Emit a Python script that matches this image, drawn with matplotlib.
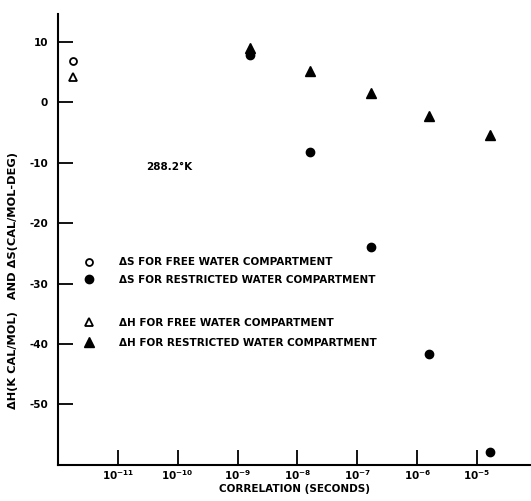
import matplotlib.pyplot as plt
from matplotlib.lines import Line2D

plt.rcParams["font.family"] = "DejaVu Sans"
plt.rcParams["font.weight"] = "bold"
plt.rcParams["mathtext.default"] = "bf"

# =========================
# Data
# =========================
tau_free = [1.8e-12]
ds_free = [6.9]
dh_free = [4.1]

tau_restr = [1.6e-9, 1.6e-8, 1.7e-7, 1.6e-6, 1.65e-5]
ds_restr = [7.9, -8.2, -24.0, -41.7, -57.9]
dh_restr = [9.0, 5.2, 1.6, -2.3, -5.4]

xtick_vals = [1e-11, 1e-10, 1e-9, 1e-8, 1e-7, 1e-6, 1e-5]
xtick_labels = ["$10^{-11}$", "$10^{-10}$", "$10^{-9}$", "$10^{-8}$",
                "$10^{-7}$", "$10^{-6}$", "$10^{-5}$"]
ytick_vals = [10, 0, -10, -20, -30, -40, -50]

# =========================
# Figure
# =========================
fig = plt.figure(figsize=(5.31, 5.01), dpi=100)
ax = fig.add_axes([0.109, 0.072, 0.891, 0.900])

ax.plot(tau_free, ds_free, "o", mfc="white", mec="black", mew=1.3, ms=5)
ax.plot(tau_free, dh_free, "^", mfc="white", mec="black", mew=1.3, ms=6)
ax.plot(tau_restr, ds_restr, "o", color="black", ms=6)
ax.plot(tau_restr, dh_restr, "^", color="black", ms=7)

ax.set_xscale("log")
ax.set_xlim(1e-12, 10 ** -4.1)
ax.set_ylim(-60, 14.6)
ax.set_xticks(xtick_vals)
ax.set_xticklabels(xtick_labels)
ax.minorticks_off()
ax.set_yticks(ytick_vals)
ax.set_yticklabels([str(v) for v in ytick_vals])

ax.spines["top"].set_visible(False)
ax.spines["right"].set_visible(False)
ax.spines["left"].set_linewidth(1.5)
ax.spines["bottom"].set_linewidth(1.5)
ax.tick_params(axis="both", direction="in", length=11, width=1.3,
               labelsize=7.5)
ax.tick_params(axis="x", pad=2)
ax.tick_params(axis="y", pad=7)

ax.set_xlabel("CORRELATION (SECONDS)", fontsize=7.5, fontweight="bold",
              labelpad=2)
ax.set_ylabel("ΔH(K CAL/MOL)   AND ΔS(CAL/MOL-DEG)", fontsize=8.2,
              fontweight="bold")
ax.yaxis.set_label_coords(-0.085, 0.41)

ax.text(0.235, 0.66, "288.2°K", transform=ax.transAxes, fontsize=7.5,
        fontweight="bold", ha="center", va="center")

# Legend (two groups)
h1 = [Line2D([], [], ls="none", marker="o", mfc="white", mec="black", mew=1.3, ms=5),
      Line2D([], [], ls="none", marker="o", color="black", ms=6)]
l1 = ["ΔS FOR FREE WATER COMPARTMENT", "ΔS FOR RESTRICTED WATER COMPARTMENT"]
h2 = [Line2D([], [], ls="none", marker="^", mfc="white", mec="black", mew=1.3, ms=6),
      Line2D([], [], ls="none", marker="^", color="black", ms=7)]
l2 = ["ΔH FOR FREE WATER COMPARTMENT", "ΔH FOR RESTRICTED WATER COMPARTMENT"]

leg1 = ax.legend(h1, l1, loc="upper left", bbox_to_anchor=(0.045, 0.470),
                 frameon=False, fontsize=7.5, handlelength=1.0,
                 handletextpad=2.4, labelspacing=0.75, borderaxespad=0)
ax.add_artist(leg1)
ax.legend(h2, l2, loc="upper left", bbox_to_anchor=(0.045, 0.335),
          frameon=False, fontsize=7.5, handlelength=1.0,
          handletextpad=2.4, labelspacing=0.95, borderaxespad=0)

fig.savefig("out.png", dpi=100)
